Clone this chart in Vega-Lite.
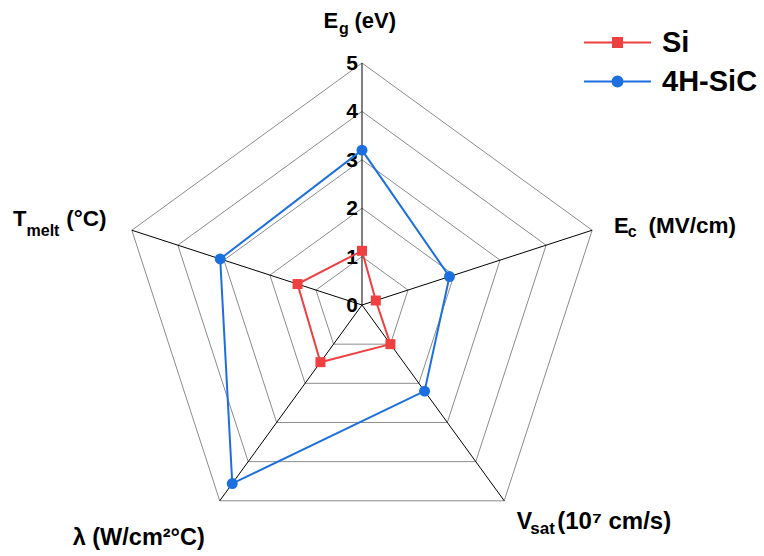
{
  "$schema": "https://vega.github.io/schema/vega-lite/v6.json",
  "width": 764,
  "height": 556,
  "autosize": {"type": "none"},
  "padding": 0,
  "background": "white",
  "config": {"view": {"stroke": null}},
  "datasets": {
    "series": [
      {"series": "Si", "idx": 0, "variable": "Eg", "value": 1.12},
      {"series": "Si", "idx": 1, "variable": "Ec", "value": 0.3},
      {"series": "Si", "idx": 2, "variable": "Vsat", "value": 1.0},
      {"series": "Si", "idx": 3, "variable": "lambda", "value": 1.46},
      {"series": "Si", "idx": 4, "variable": "Tmelt", "value": 1.4},
      {"series": "Si", "idx": 5, "variable": "Eg", "value": 1.12},
      {"series": "4H-SiC", "idx": 0, "variable": "Eg", "value": 3.2},
      {"series": "4H-SiC", "idx": 1, "variable": "Ec", "value": 1.9},
      {"series": "4H-SiC", "idx": 2, "variable": "Vsat", "value": 2.2},
      {"series": "4H-SiC", "idx": 3, "variable": "lambda", "value": 4.56},
      {"series": "4H-SiC", "idx": 4, "variable": "Tmelt", "value": 3.08},
      {"series": "4H-SiC", "idx": 5, "variable": "Eg", "value": 3.2}
    ],
    "grid": [
      {"level": 1, "idx": 0}, {"level": 1, "idx": 1}, {"level": 1, "idx": 2}, {"level": 1, "idx": 3}, {"level": 1, "idx": 4}, {"level": 1, "idx": 5},
      {"level": 2, "idx": 0}, {"level": 2, "idx": 1}, {"level": 2, "idx": 2}, {"level": 2, "idx": 3}, {"level": 2, "idx": 4}, {"level": 2, "idx": 5},
      {"level": 3, "idx": 0}, {"level": 3, "idx": 1}, {"level": 3, "idx": 2}, {"level": 3, "idx": 3}, {"level": 3, "idx": 4}, {"level": 3, "idx": 5},
      {"level": 4, "idx": 0}, {"level": 4, "idx": 1}, {"level": 4, "idx": 2}, {"level": 4, "idx": 3}, {"level": 4, "idx": 4}, {"level": 4, "idx": 5},
      {"level": 5, "idx": 0}, {"level": 5, "idx": 1}, {"level": 5, "idx": 2}, {"level": 5, "idx": 3}, {"level": 5, "idx": 4}, {"level": 5, "idx": 5}
    ],
    "axes": [
      {"idx": 0, "level": 5}, {"idx": 1, "level": 5}, {"idx": 2, "level": 5}, {"idx": 3, "level": 5}, {"idx": 4, "level": 5}
    ],
    "ticks": [
      {"level": 0}, {"level": 1}, {"level": 2}, {"level": 3}, {"level": 4}, {"level": 5}
    ],
    "labels": [
      {"idx": 0, "main": "E", "sub": "g", "rest": "(eV)"},
      {"idx": 1, "main": "E", "sub": "c", "rest": "(MV/cm)"},
      {"idx": 2, "main": "V", "sub": "sat", "rest": "(10⁷ cm/s)"},
      {"idx": 3, "main": "λ (W/cm²°C)", "sub": "", "rest": ""},
      {"idx": 4, "main": "T", "sub": "melt", "rest": "(°C)"}
    ]
  },
  "encoding": {
    "x": {"field": "x", "type": "quantitative", "scale": {"domain": [-7.479, 8.306], "nice": false, "zero": false}, "axis": null},
    "y": {"field": "y", "type": "quantitative", "scale": {"domain": [-5.186, 6.302], "nice": false, "zero": false}, "axis": null}
  },
  "layer": [
    {
      "data": {"name": "grid"},
      "transform": [
        {"calculate": "datum.level*cos(PI/2-datum.idx*2*PI/5)", "as": "x"},
        {"calculate": "datum.level*sin(PI/2-datum.idx*2*PI/5)", "as": "y"}
      ],
      "mark": {"type": "line", "color": "#8c8c8c", "strokeWidth": 1},
      "encoding": {"detail": {"field": "level"}, "order": {"field": "idx", "type": "quantitative"}}
    },
    {
      "data": {"name": "axes"},
      "transform": [
        {"calculate": "datum.level*cos(PI/2-datum.idx*2*PI/5)", "as": "x"},
        {"calculate": "datum.level*sin(PI/2-datum.idx*2*PI/5)", "as": "y"}
      ],
      "mark": {"type": "rule", "color": "black", "strokeWidth": 1},
      "encoding": {"x2": {"datum": 0}, "y2": {"datum": 0}}
    },
    {
      "data": {"name": "ticks"},
      "transform": [
        {"calculate": "0", "as": "x"},
        {"calculate": "datum.level", "as": "y"}
      ],
      "mark": {"type": "text", "align": "right", "baseline": "middle", "dx": -4, "dy": 1, "font": "Liberation Sans", "fontSize": 21, "fontWeight": "bold", "color": "black"},
      "encoding": {"text": {"field": "level"}}
    },
    {
      "data": {"name": "series"},
      "transform": [
        {"calculate": "datum.value*cos(PI/2-datum.idx*2*PI/5)", "as": "x"},
        {"calculate": "datum.value*sin(PI/2-datum.idx*2*PI/5)", "as": "y"}
      ],
      "mark": {"type": "line", "strokeWidth": 2},
      "encoding": {
        "order": {"field": "idx", "type": "quantitative"},
        "color": {
          "field": "series", "type": "nominal",
          "scale": {"domain": ["Si", "4H-SiC"], "range": ["#EE4040", "#1C6FDF"]},
          "legend": {
            "orient": "none", "legendX": 603, "legendY": 28, "title": null, "padding": 0,
            "labelFont": "Liberation Sans", "labelFontSize": 29, "labelFontWeight": "bold", "labelColor": "black",
            "symbolSize": 400, "symbolType": "M-3.35,0H3.35", "symbolStrokeWidth": 2, "labelOffset": 30, "rowPadding": 9,
            "encode": {
              "symbols": {
                "update": {
                  "shape": {"signal": "datum.value === 'Si' ? 'M-3.35,0H3.35M-0.45,-0.45H0.45V0.45H-0.45Z' : 'M-3.35,0H3.35M0.5,0A0.5,0.5 0 1 1 -0.5,0A0.5,0.5 0 1 1 0.5,0Z'"},
                  "size": {"value": 400},
                  "fill": {"signal": "datum.value === 'Si' ? '#EE4040' : '#1C6FDF'"},
                  "stroke": {"signal": "datum.value === 'Si' ? '#EE4040' : '#1C6FDF'"},
                  "strokeWidth": {"value": 2},
                  "opacity": {"value": 1},
                  "fillOpacity": {"value": 1},
                  "strokeOpacity": {"value": 1}
                }
              }
            }
          }
        }
      }
    },
    {
      "data": {"name": "series"},
      "transform": [
        {"filter": "datum.idx < 5 && datum.series === 'Si'"},
        {"calculate": "datum.value*cos(PI/2-datum.idx*2*PI/5)", "as": "x"},
        {"calculate": "datum.value*sin(PI/2-datum.idx*2*PI/5)", "as": "y"}
      ],
      "mark": {"type": "point", "filled": true, "opacity": 1, "shape": "square", "size": 100},
      "encoding": {"color": {"field": "series", "type": "nominal"}}
    },
    {
      "data": {"name": "series"},
      "transform": [
        {"filter": "datum.idx < 5 && datum.series === '4H-SiC'"},
        {"calculate": "datum.value*cos(PI/2-datum.idx*2*PI/5)", "as": "x"},
        {"calculate": "datum.value*sin(PI/2-datum.idx*2*PI/5)", "as": "y"}
      ],
      "mark": {"type": "point", "filled": true, "opacity": 1, "shape": "circle", "size": 120},
      "encoding": {"color": {"field": "series", "type": "nominal"}}
    },
    {
      "data": {"name": "labels"},
      "transform": [{"filter": "datum.idx == 0"}, {"calculate": "5*cos(PI/2-datum.idx*2*PI/5)", "as": "x"}, {"calculate": "5*sin(PI/2-datum.idx*2*PI/5)", "as": "y"}],
      "mark": {"type": "text", "align": "left", "baseline": "alphabetic", "dx": -38.5, "dy": -35, "font": "Liberation Sans", "fontSize": 22, "fontWeight": "bold", "color": "black"},
      "encoding": {"text": {"field": "main"}}
    },
    {
      "data": {"name": "labels"},
      "transform": [{"filter": "datum.idx == 0"}, {"calculate": "5*cos(PI/2-datum.idx*2*PI/5)", "as": "x"}, {"calculate": "5*sin(PI/2-datum.idx*2*PI/5)", "as": "y"}],
      "mark": {"type": "text", "align": "left", "baseline": "alphabetic", "dx": -23, "dy": -29, "font": "Liberation Sans", "fontSize": 16, "fontWeight": "bold", "color": "black"},
      "encoding": {"text": {"field": "sub"}}
    },
    {
      "data": {"name": "labels"},
      "transform": [{"filter": "datum.idx == 0"}, {"calculate": "5*cos(PI/2-datum.idx*2*PI/5)", "as": "x"}, {"calculate": "5*sin(PI/2-datum.idx*2*PI/5)", "as": "y"}],
      "mark": {"type": "text", "align": "left", "baseline": "alphabetic", "dx": -7.5, "dy": -35, "font": "Liberation Sans", "fontSize": 22, "fontWeight": "bold", "color": "black"},
      "encoding": {"text": {"field": "rest"}}
    },
    {
      "data": {"name": "labels"},
      "transform": [{"filter": "datum.idx == 1"}, {"calculate": "5*cos(PI/2-datum.idx*2*PI/5)", "as": "x"}, {"calculate": "5*sin(PI/2-datum.idx*2*PI/5)", "as": "y"}],
      "mark": {"type": "text", "align": "left", "baseline": "alphabetic", "dx": 21.8, "dy": 2.8, "font": "Liberation Sans", "fontSize": 22, "fontWeight": "bold", "color": "black"},
      "encoding": {"text": {"field": "main"}}
    },
    {
      "data": {"name": "labels"},
      "transform": [{"filter": "datum.idx == 1"}, {"calculate": "5*cos(PI/2-datum.idx*2*PI/5)", "as": "x"}, {"calculate": "5*sin(PI/2-datum.idx*2*PI/5)", "as": "y"}],
      "mark": {"type": "text", "align": "left", "baseline": "alphabetic", "dx": 35.5, "dy": 6.5, "font": "Liberation Sans", "fontSize": 16, "fontWeight": "bold", "color": "black"},
      "encoding": {"text": {"field": "sub"}}
    },
    {
      "data": {"name": "labels"},
      "transform": [{"filter": "datum.idx == 1"}, {"calculate": "5*cos(PI/2-datum.idx*2*PI/5)", "as": "x"}, {"calculate": "5*sin(PI/2-datum.idx*2*PI/5)", "as": "y"}],
      "mark": {"type": "text", "align": "left", "baseline": "alphabetic", "dx": 56.3, "dy": 2.8, "font": "Liberation Sans", "fontSize": 22.5, "fontWeight": "bold", "color": "black"},
      "encoding": {"text": {"field": "rest"}}
    },
    {
      "data": {"name": "labels"},
      "transform": [{"filter": "datum.idx == 2"}, {"calculate": "5*cos(PI/2-datum.idx*2*PI/5)", "as": "x"}, {"calculate": "5*sin(PI/2-datum.idx*2*PI/5)", "as": "y"}],
      "mark": {"type": "text", "align": "left", "baseline": "alphabetic", "dx": 12.5, "dy": 28.5, "font": "Liberation Sans", "fontSize": 23, "fontWeight": "bold", "color": "black"},
      "encoding": {"text": {"field": "main"}}
    },
    {
      "data": {"name": "labels"},
      "transform": [{"filter": "datum.idx == 2"}, {"calculate": "5*cos(PI/2-datum.idx*2*PI/5)", "as": "x"}, {"calculate": "5*sin(PI/2-datum.idx*2*PI/5)", "as": "y"}],
      "mark": {"type": "text", "align": "left", "baseline": "alphabetic", "dx": 26, "dy": 33.5, "font": "Liberation Sans", "fontSize": 17, "fontWeight": "bold", "color": "black"},
      "encoding": {"text": {"field": "sub"}}
    },
    {
      "data": {"name": "labels"},
      "transform": [{"filter": "datum.idx == 2"}, {"calculate": "5*cos(PI/2-datum.idx*2*PI/5)", "as": "x"}, {"calculate": "5*sin(PI/2-datum.idx*2*PI/5)", "as": "y"}],
      "mark": {"type": "text", "align": "left", "baseline": "alphabetic", "dx": 53, "dy": 28.5, "font": "Liberation Sans", "fontSize": 24, "fontWeight": "bold", "color": "black"},
      "encoding": {"text": {"field": "rest"}}
    },
    {
      "data": {"name": "labels"},
      "transform": [{"filter": "datum.idx == 3"}, {"calculate": "5*cos(PI/2-datum.idx*2*PI/5)", "as": "x"}, {"calculate": "5*sin(PI/2-datum.idx*2*PI/5)", "as": "y"}],
      "mark": {"type": "text", "align": "center", "baseline": "alphabetic", "dx": -81, "dy": 44.2, "font": "Liberation Sans", "fontSize": 23.5, "fontWeight": "bold", "color": "black"},
      "encoding": {"text": {"field": "main"}}
    },
    {
      "data": {"name": "labels"},
      "transform": [{"filter": "datum.idx == 4"}, {"calculate": "5*cos(PI/2-datum.idx*2*PI/5)", "as": "x"}, {"calculate": "5*sin(PI/2-datum.idx*2*PI/5)", "as": "y"}],
      "mark": {"type": "text", "align": "left", "baseline": "alphabetic", "dx": -118.8, "dy": -4.2, "font": "Liberation Sans", "fontSize": 22, "fontWeight": "bold", "color": "black"},
      "encoding": {"text": {"field": "main"}}
    },
    {
      "data": {"name": "labels"},
      "transform": [{"filter": "datum.idx == 4"}, {"calculate": "5*cos(PI/2-datum.idx*2*PI/5)", "as": "x"}, {"calculate": "5*sin(PI/2-datum.idx*2*PI/5)", "as": "y"}],
      "mark": {"type": "text", "align": "left", "baseline": "alphabetic", "dx": -105.3, "dy": 5.3, "font": "Liberation Sans", "fontSize": 16, "fontWeight": "bold", "color": "black"},
      "encoding": {"text": {"field": "sub"}}
    },
    {
      "data": {"name": "labels"},
      "transform": [{"filter": "datum.idx == 4"}, {"calculate": "5*cos(PI/2-datum.idx*2*PI/5)", "as": "x"}, {"calculate": "5*sin(PI/2-datum.idx*2*PI/5)", "as": "y"}],
      "mark": {"type": "text", "align": "left", "baseline": "alphabetic", "dx": -65.5, "dy": -4.2, "font": "Liberation Sans", "fontSize": 22.5, "fontWeight": "bold", "color": "black"},
      "encoding": {"text": {"field": "rest"}}
    }
  ]
}
